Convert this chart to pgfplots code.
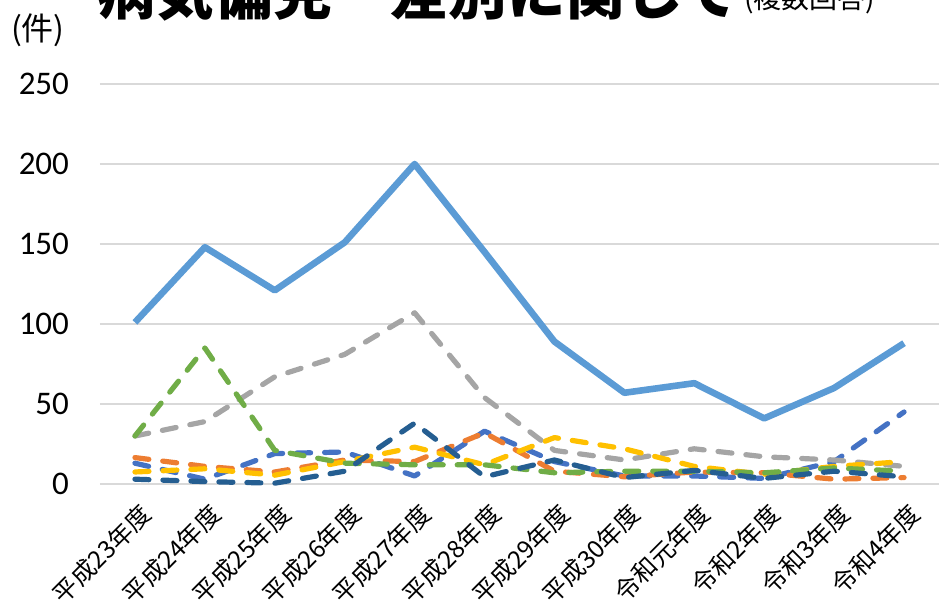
\documentclass[border=0pt]{standalone}
\usepackage{fontspec}
\usepackage{pgfplots}
\pgfplotsset{compat=1.18}
\setmainfont{Carlito}
\newfontfamily\cjk{Noto Sans CJK JP}
\definecolor{cA}{HTML}{4472C4}
\definecolor{cB}{HTML}{ED7D31}
\definecolor{cC}{HTML}{A5A5A5}
\definecolor{cD}{HTML}{FFC000}
\definecolor{cE}{HTML}{5B9BD5}
\definecolor{cF}{HTML}{70AD47}
\definecolor{cG}{HTML}{255E91}
\definecolor{gridgray}{HTML}{D9D9D9}
\begin{document}
\begin{tikzpicture}
\useasboundingbox (-50pt,-64.5pt) rectangle (424.5pt,242pt);
\begin{axis}[
  at={(0,0)}, anchor=south west,
  scale only axis, width=419.5pt, height=200pt,
  xmin=-0.5, xmax=11.5, ymin=0, ymax=250,
  ytick={0,50,...,250},
  xtick={0,...,11},
  xticklabels={平成23年度,平成24年度,平成25年度,平成26年度,平成27年度,平成28年度,平成29年度,平成30年度,令和元年度,令和2年度,令和3年度,令和4年度},
  xticklabel style={font=\cjk\fontsize{12.3}{12.3}\selectfont, xshift=6.5pt, yshift=-12pt, rotate=45, anchor=east, inner sep=1pt},
  yticklabel style={font=\fontsize{16.5}{16.5}\selectfont, xshift=-12pt},
  /pgf/number format/assume math mode=true,
  axis line style={draw=none},
  major tick length=0pt,
  ymajorgrids, grid style={color=gridgray, line width=1pt},
  clip=false,
  every axis plot/.append style={line join=round},
  dsh/.style={line width=2.6pt, line cap=round, dash pattern=on 7pt off 7pt},
]
\addplot[cA, dsh] coordinates {(0,13)(1,3)(2,19)(3,20)(4,5)(5,33)(6,14)(7,5)(8,5)(9,3.5)(10,14)(11,45)};
\addplot[cB, dsh] coordinates {(0,16.5)(1,11)(2,7.5)(3,15)(4,14)(5,32)(6,8)(7,4.5)(8,7.5)(9,7)(10,3)(11,4)};
\addplot[cC, dsh] coordinates {(0,30)(1,39)(2,67)(3,81)(4,107)(5,54)(6,21)(7,15)(8,22)(9,17)(10,15)(11,11)};
\addplot[cD, dsh] coordinates {(0,7.5)(1,9.5)(2,5.5)(3,14)(4,23)(5,12)(6,29)(7,22)(8,11)(9,6)(10,11)(11,14)};
\addplot[cE, line width=3.3pt] coordinates {(0,101)(1,148)(2,121)(3,151)(4,200)(5,145)(6,89)(7,57)(8,63)(9,41)(10,60)(11,88)};
\addplot[cF, dsh] coordinates {(0,30)(1,85)(2,21)(3,13)(4,12)(5,12)(6,7)(7,8)(8,8)(9,7)(10,10)(11,8)};
\addplot[cG, dsh] coordinates {(0,3)(1,1.5)(2,0.5)(3,8)(4,38)(5,4.5)(6,15)(7,4)(8,8.5)(9,3.5)(10,8)(11,4.5)};
\end{axis}
\node[anchor=base west, inner sep=0pt, font=\cjk\bfseries\fontsize{29.3}{29.3}\selectfont] at (-1.5pt,234.5pt) {病気偏見ー差別に関して};
\node[anchor=base west, inner sep=0pt, font=\cjk\fontsize{14}{14}\selectfont] at (322pt,237.5pt) {(複数回答)};
\node[anchor=center, inner sep=0pt, font=\cjk\fontsize{16}{16}\selectfont] at (-31pt,227pt) {(件)};
\end{tikzpicture}
\end{document}
